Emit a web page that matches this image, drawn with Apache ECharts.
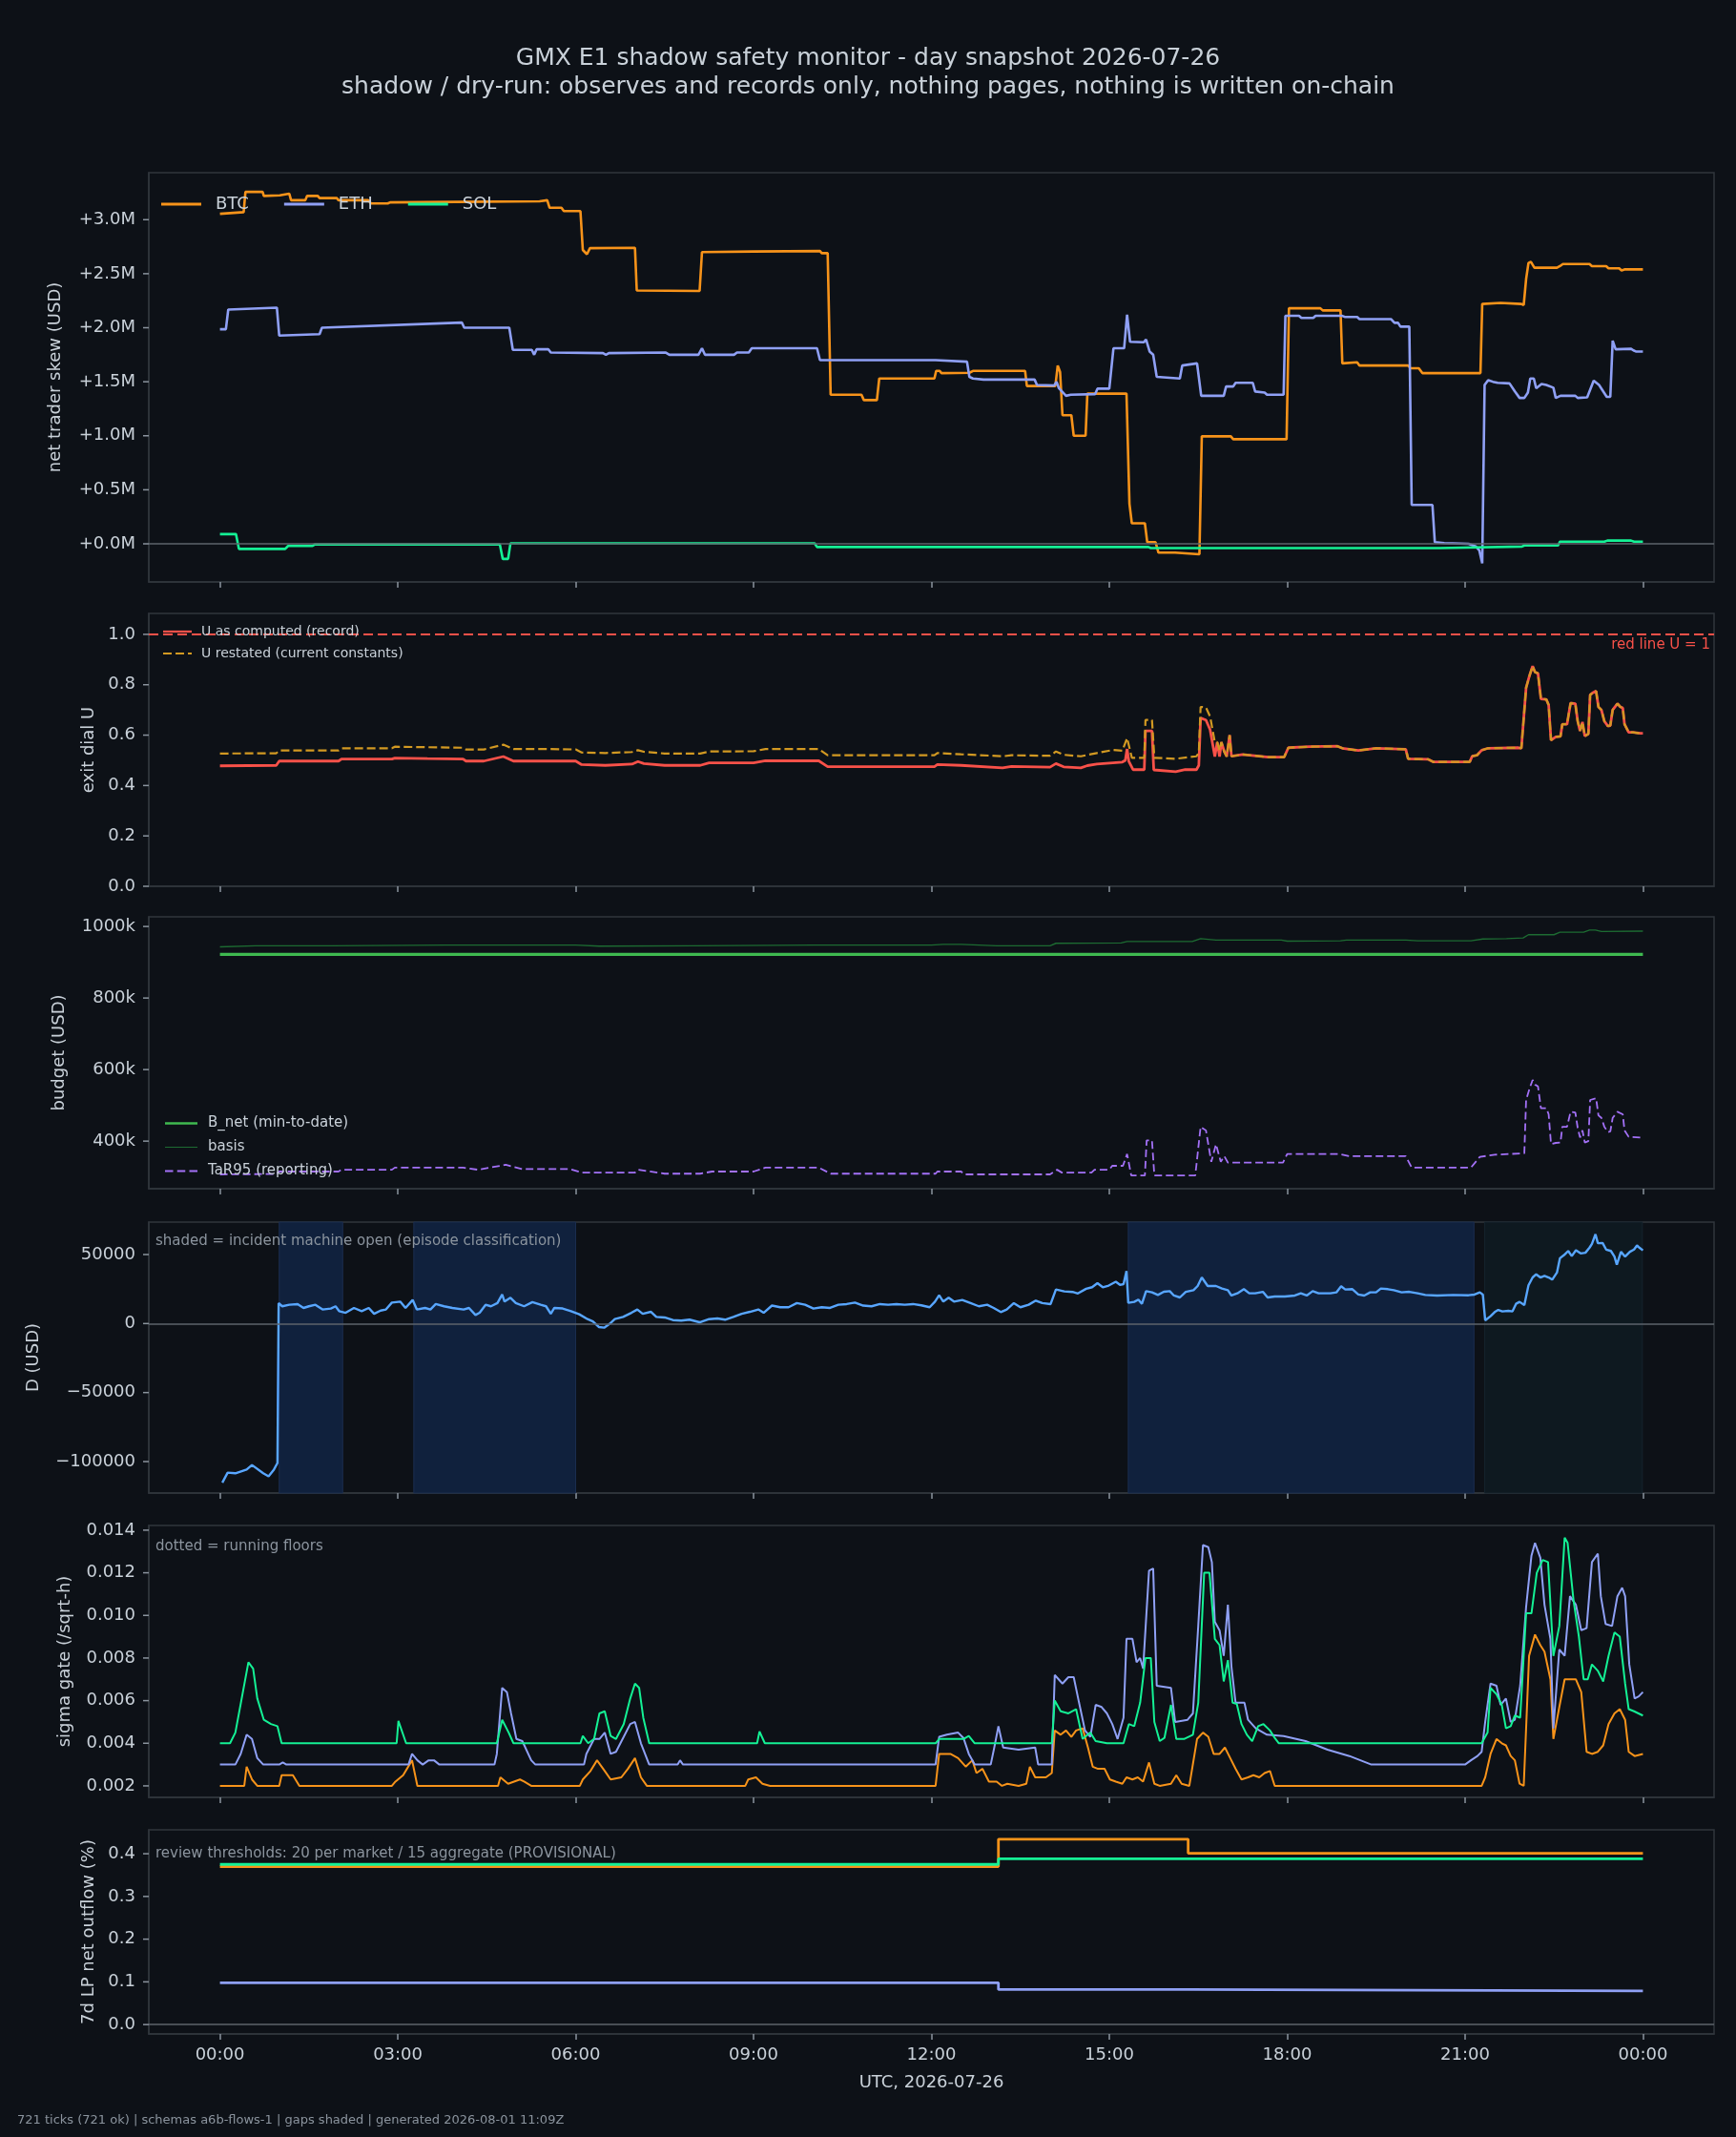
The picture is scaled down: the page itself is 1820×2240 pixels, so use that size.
<!DOCTYPE html>
<html>
<head>
<meta charset="utf-8">
<title>GMX E1 shadow safety monitor</title>
<script src="https://cdn.jsdelivr.net/npm/echarts@6/dist/echarts.min.js"></script>
<style>
  html, body { margin: 0; padding: 0; background: #0d1117; }
  #chart { width: 1820px; height: 2240px; }
</style>
</head>
<body>
<div id="chart"></div>
<script>
// x values are hours since 00:00 UTC, 2026-07-26

// net trader skew, USD millions
var btcSkewM = [[0,3.054],[0.4,3.07],[0.43,3.257],[0.72,3.257],[0.74,3.22],[1.01,3.225],[1.04,3.24],[1.17,3.24],[1.2,3.18],[1.44,3.18],[1.47,3.22],[1.65,3.22],[1.68,3.20],[1.97,3.20],[2.0,3.18],[2.5,3.18],[2.55,3.15],[2.83,3.15],[2.87,3.16],[4.0,3.165],[5.39,3.17],[5.42,3.18],[5.52,3.18],[5.56,3.11],[5.76,3.11],[5.8,3.08],[6.08,3.08],[6.12,2.72],[6.19,2.68],[6.24,2.736],[7.0,2.74],[7.03,2.345],[8.09,2.34],[8.13,2.70],[9.0,2.705],[10.12,2.71],[10.15,2.69],[10.25,2.69],[10.3,1.38],[10.82,1.38],[10.86,1.33],[11.08,1.33],[11.12,1.53],[12.05,1.53],[12.08,1.60],[12.14,1.60],[12.17,1.58],[12.64,1.583],[12.7,1.60],[13.58,1.60],[13.61,1.46],[14.09,1.46],[14.13,1.65],[14.17,1.59],[14.21,1.19],[14.36,1.19],[14.4,1.0],[14.6,1.0],[14.63,1.39],[15.29,1.39],[15.34,0.37],[15.38,0.19],[15.6,0.19],[15.64,0.015],[15.78,0.015],[15.83,-0.082],[16.11,-0.082],[16.14,-0.097],[16.52,-0.097],[16.56,0.995],[17.05,0.995],[17.09,0.968],[17.99,0.968],[18.03,2.18],[18.56,2.18],[18.6,2.16],[18.9,2.16],[18.93,1.67],[19.18,1.68],[19.22,1.65],[20.04,1.65],[20.08,1.625],[20.22,1.625],[20.28,1.58],[21.26,1.58],[21.29,2.22],[21.6,2.23],[21.95,2.22],[21.99,2.21],[22.03,2.45],[22.07,2.60],[22.11,2.61],[22.17,2.555],[22.55,2.555],[22.6,2.57],[22.65,2.59],[23.1,2.59],[23.14,2.57],[23.38,2.57],[23.42,2.55],[23.6,2.55],[23.64,2.53],[23.7,2.54],[24.0,2.54]];
var ethSkewM = [[0,1.986],[0.1,1.986],[0.14,2.168],[0.96,2.186],[1.0,1.927],[1.68,1.94],[1.72,2.0],[4.08,2.048],[4.12,2.0],[4.88,2.0],[4.94,1.795],[5.26,1.795],[5.3,1.75],[5.34,1.80],[5.54,1.80],[5.58,1.77],[6.46,1.765],[6.51,1.75],[6.56,1.765],[7.52,1.77],[7.58,1.75],[8.07,1.75],[8.13,1.81],[8.18,1.75],[8.67,1.75],[8.72,1.77],[8.92,1.77],[8.97,1.81],[10.07,1.81],[10.12,1.70],[12.07,1.70],[12.6,1.686],[12.64,1.545],[12.7,1.53],[12.88,1.52],[13.74,1.52],[13.78,1.47],[14.07,1.465],[14.11,1.50],[14.15,1.44],[14.27,1.37],[14.35,1.38],[14.76,1.385],[14.8,1.436],[15.0,1.436],[15.07,1.81],[15.25,1.81],[15.3,2.12],[15.35,1.87],[15.58,1.865],[15.62,1.89],[15.68,1.78],[15.74,1.75],[15.8,1.545],[16.19,1.53],[16.23,1.65],[16.48,1.67],[16.55,1.37],[16.93,1.37],[16.97,1.456],[17.09,1.456],[17.13,1.49],[17.42,1.49],[17.46,1.41],[17.62,1.40],[17.66,1.38],[17.94,1.38],[17.97,2.11],[18.2,2.11],[18.24,2.09],[18.44,2.09],[18.48,2.11],[18.93,2.11],[18.97,2.10],[19.18,2.10],[19.22,2.08],[19.75,2.08],[19.81,2.045],[19.87,2.045],[19.91,2.01],[20.06,2.01],[20.1,0.36],[20.45,0.36],[20.49,0.015],[20.65,0.007],[21.06,0.0],[21.18,-0.024],[21.24,-0.06],[21.29,-0.18],[21.33,1.47],[21.39,1.515],[21.47,1.50],[21.55,1.49],[21.75,1.485],[21.84,1.41],[21.92,1.35],[22.0,1.35],[22.06,1.40],[22.1,1.53],[22.16,1.53],[22.2,1.44],[22.29,1.48],[22.37,1.47],[22.49,1.445],[22.53,1.35],[22.61,1.37],[22.86,1.37],[22.9,1.35],[23.06,1.355],[23.17,1.51],[23.26,1.47],[23.39,1.36],[23.45,1.36],[23.49,1.88],[23.54,1.80],[23.8,1.805],[23.84,1.79],[23.88,1.78],[24.0,1.78]];
var solSkewM = [[0,0.09],[0.27,0.09],[0.32,-0.047],[1.1,-0.047],[1.15,-0.02],[1.56,-0.02],[1.6,-0.005],[4.72,-0.005],[4.77,-0.14],[4.86,-0.14],[4.9,0.005],[10.03,0.005],[10.07,-0.03],[15.66,-0.03],[15.7,-0.04],[20.57,-0.04],[20.6,-0.025],[21.96,-0.025],[22.0,-0.015],[22.57,-0.015],[22.6,0.02],[23.35,0.02],[23.4,0.03],[23.8,0.03],[23.85,0.02],[24.0,0.02]];

// exit dial U
var uComputed = [[0,0.478],[0.95,0.48],[1.0,0.497],[2.0,0.497],[2.05,0.505],[2.9,0.505],[2.95,0.509],[3.5,0.507],[4.1,0.505],[4.15,0.497],[4.45,0.497],[4.78,0.515],[4.95,0.497],[5.55,0.497],[6.0,0.497],[6.1,0.483],[6.5,0.48],[6.95,0.485],[7.05,0.495],[7.15,0.487],[7.5,0.48],[8.1,0.48],[8.25,0.49],[9.0,0.49],[9.2,0.498],[10.1,0.498],[10.25,0.475],[12.05,0.475],[12.1,0.483],[12.5,0.48],[13.2,0.47],[13.35,0.476],[14.0,0.473],[14.1,0.487],[14.23,0.474],[14.52,0.47],[14.63,0.479],[14.79,0.485],[15.06,0.49],[15.22,0.493],[15.27,0.5],[15.3,0.545],[15.33,0.496],[15.4,0.463],[15.59,0.463],[15.61,0.617],[15.72,0.617],[15.75,0.462],[16.12,0.455],[16.28,0.463],[16.47,0.463],[16.51,0.48],[16.54,0.668],[16.63,0.66],[16.7,0.622],[16.78,0.515],[16.82,0.572],[16.86,0.515],[16.89,0.572],[16.94,0.534],[16.98,0.515],[17.03,0.6],[17.06,0.516],[17.25,0.523],[17.68,0.513],[17.95,0.513],[18.02,0.55],[18.37,0.554],[18.85,0.556],[18.88,0.561],[18.93,0.548],[19.2,0.539],[19.5,0.548],[20.0,0.544],[20.04,0.506],[20.38,0.504],[20.46,0.494],[21.08,0.494],[21.12,0.516],[21.2,0.52],[21.28,0.54],[21.39,0.548],[21.9,0.55],[21.95,0.548],[22.03,0.788],[22.09,0.838],[22.14,0.874],[22.18,0.85],[22.23,0.845],[22.28,0.744],[22.37,0.742],[22.41,0.72],[22.45,0.58],[22.48,0.585],[22.53,0.593],[22.61,0.595],[22.64,0.643],[22.72,0.643],[22.74,0.637],[22.78,0.727],[22.86,0.725],[22.9,0.655],[22.94,0.617],[22.98,0.652],[23.02,0.596],[23.08,0.605],[23.11,0.76],[23.16,0.769],[23.21,0.775],[23.25,0.712],[23.3,0.7],[23.35,0.655],[23.41,0.636],[23.45,0.638],[23.49,0.7],[23.57,0.725],[23.62,0.712],[23.66,0.708],[23.69,0.643],[23.72,0.641],[23.76,0.611],[23.83,0.611],[23.96,0.607],[24.0,0.607]];
// restated sits above the record until ~17:00, after that the two lines coincide
var uRestatedEarly = [[0,0.527],[0.95,0.528],[1.0,0.539],[2.0,0.539],[2.05,0.548],[2.9,0.548],[2.95,0.554],[3.5,0.552],[4.1,0.55],[4.15,0.543],[4.45,0.543],[4.78,0.562],[4.95,0.545],[5.55,0.545],[6.0,0.543],[6.1,0.531],[6.5,0.529],[6.95,0.533],[7.05,0.54],[7.15,0.534],[7.5,0.527],[8.1,0.527],[8.25,0.535],[9.0,0.536],[9.2,0.545],[10.1,0.545],[10.25,0.52],[12.05,0.52],[12.1,0.529],[12.5,0.524],[13.2,0.516],[13.35,0.52],[14.0,0.518],[14.1,0.535],[14.23,0.522],[14.52,0.516],[14.79,0.529],[15.06,0.541],[15.22,0.538],[15.3,0.588],[15.38,0.51],[15.59,0.51],[15.61,0.66],[15.72,0.66],[15.76,0.51],[16.12,0.506],[16.47,0.516],[16.51,0.53],[16.54,0.712],[16.63,0.71],[16.7,0.674],[16.78,0.572],[16.82,0.572],[16.86,0.54],[16.89,0.572],[16.94,0.534],[16.98,0.515],[17.03,0.6]];
var uRestated = uRestatedEarly.concat(uComputed.filter(function (p) { return p[0] >= 17.06; }));
var redLineU = 1;

// budget, USD thousands
var bNetK = [[0,922],[24,922]];
var basisK = [[0,943],[0.6,946],[1.9,946],[3.8,948],[6.0,948],[6.4,945],[8,946],[10,948],[12,948],[12.2,950],[12.5,950],[13.1,946],[14.0,946],[14.1,953],[15.2,954],[15.3,958],[16.4,958],[16.54,966],[16.8,962],[17.9,962],[18,959],[18.9,960],[19.0,962],[20.0,962],[20.2,960],[21.1,960],[21.3,965],[21.7,966],[21.98,968],[22.07,977],[22.5,977],[22.6,984],[23.0,984],[23.1,990],[23.2,990],[23.3,986],[24,987]];
var tar95K = [[0,307],[0.95,308],[1.0,315],[2.0,315],[2.05,320],[2.9,320],[2.95,326],[4.1,326],[4.35,320],[4.82,334],[5.1,322],[5.9,322],[6.1,312],[7.0,312],[7.05,320],[7.5,309],[8.1,309],[8.3,315],[9.0,315],[9.2,326],[10.1,326],[10.3,309],[12.07,309],[12.1,315],[12.5,315],[12.55,307],[14.0,307],[14.12,320],[14.2,312],[14.7,312],[14.75,320],[15.0,320],[15.05,331],[15.23,331],[15.3,364],[15.37,304],[15.6,304],[15.63,402],[15.72,402],[15.76,304],[16.45,304],[16.54,440],[16.63,430],[16.72,342],[16.8,391],[16.88,342],[16.94,358],[17.0,340],[17.93,340],[18.0,364],[18.87,364],[18.9,368],[19.05,358],[20.0,358],[20.1,326],[21.1,326],[21.25,356],[21.5,362],[22.0,366],[22.03,515],[22.09,548],[22.14,571],[22.18,558],[22.23,553],[22.28,492],[22.37,492],[22.41,475],[22.45,392],[22.53,395],[22.61,396],[22.64,440],[22.72,440],[22.78,482],[22.86,480],[22.9,437],[22.94,410],[22.98,430],[23.02,396],[23.08,400],[23.11,515],[23.21,520],[23.25,472],[23.3,465],[23.35,440],[23.41,425],[23.45,427],[23.49,465],[23.57,482],[23.66,475],[23.69,430],[23.72,430],[23.76,412],[23.96,410],[24.0,410]];

// D, USD
var dUsd = [[0.04,-115300],[0.13,-108000],[0.26,-108500],[0.45,-105800],[0.54,-102500],[0.73,-108500],[0.82,-110700],[0.91,-105800],[0.97,-101000],[0.99,14800],[1.05,12500],[1.17,13600],[1.31,14100],[1.41,11300],[1.5,12500],[1.61,13600],[1.73,10200],[1.87,10900],[1.95,12500],[2.01,9000],[2.12,7800],[2.26,11300],[2.39,9000],[2.51,11300],[2.6,7100],[2.71,9400],[2.8,10200],[2.9,15200],[3.04,15900],[3.13,11300],[3.25,17100],[3.32,10200],[3.46,11300],[3.55,10200],[3.64,14100],[3.78,12500],[3.92,11300],[4.11,10200],[4.2,11300],[4.31,6200],[4.38,7800],[4.48,13600],[4.57,12500],[4.68,14800],[4.76,21000],[4.8,15900],[4.9,18700],[4.99,14800],[5.13,12500],[5.27,15500],[5.41,13600],[5.5,12500],[5.58,7100],[5.64,11300],[5.78,10900],[5.92,9000],[6.06,6700],[6.2,3200],[6.29,1600],[6.39,-2500],[6.48,-3000],[6.57,-300],[6.66,3200],[6.8,4800],[6.94,7800],[7.04,10200],[7.13,7100],[7.27,8500],[7.36,4800],[7.5,4400],[7.64,2500],[7.78,2100],[7.92,2800],[8.09,900],[8.25,3200],[8.39,3700],[8.52,2800],[8.66,4800],[8.8,7100],[8.94,8500],[9.08,10200],[9.17,7800],[9.31,13000],[9.45,11800],[9.59,11800],[9.73,14800],[9.87,13600],[10.01,10900],[10.15,11800],[10.29,11300],[10.43,13600],[10.57,14100],[10.71,15200],[10.85,13000],[10.99,12500],[11.13,14100],[11.27,13600],[11.41,14100],[11.55,13600],[11.69,14100],[11.83,13200],[11.97,11800],[12.06,15900],[12.13,20500],[12.2,15900],[12.29,18700],[12.38,15900],[12.52,17100],[12.66,14800],[12.8,12500],[12.94,13600],[13.05,11300],[13.17,8300],[13.27,10200],[13.39,14800],[13.5,11800],[13.64,13600],[13.76,16600],[13.87,14800],[14.01,14100],[14.1,24700],[14.24,23300],[14.38,22900],[14.47,21800],[14.61,25200],[14.71,26300],[14.8,29300],[14.89,26300],[14.99,27500],[15.11,30300],[15.18,28000],[15.24,28600],[15.29,38000],[15.32,15000],[15.42,15700],[15.49,17300],[15.55,14300],[15.62,23500],[15.72,22600],[15.82,20700],[15.92,23000],[16.02,23500],[16.09,20300],[16.19,18900],[16.29,23000],[16.42,24200],[16.49,27200],[16.56,33400],[16.66,27200],[16.8,27200],[16.9,25400],[17.0,24200],[17.06,20300],[17.16,21900],[17.27,24900],[17.36,21900],[17.46,21900],[17.59,23000],[17.67,18900],[17.79,19600],[17.96,19600],[18.13,20300],[18.23,21900],[18.33,20300],[18.43,23500],[18.53,21900],[18.73,21900],[18.83,22600],[18.91,27000],[18.98,24700],[19.1,24900],[19.2,21100],[19.3,20300],[19.4,22600],[19.5,22600],[19.58,25400],[19.7,24900],[19.8,24200],[19.93,22600],[20.06,23000],[20.2,21900],[20.33,20700],[20.53,20300],[20.8,20700],[21.06,20500],[21.16,21000],[21.25,22600],[21.3,21000],[21.34,2300],[21.43,5300],[21.5,8300],[21.56,9900],[21.63,8800],[21.73,9200],[21.8,8800],[21.86,14300],[21.92,15700],[22.0,13400],[22.07,27700],[22.14,33400],[22.2,35700],[22.27,33400],[22.34,34600],[22.41,33400],[22.47,31800],[22.55,36900],[22.6,47300],[22.67,49600],[22.74,52600],[22.8,48900],[22.87,53100],[22.95,50800],[23.03,51300],[23.1,55000],[23.14,57700],[23.2,64700],[23.24,58200],[23.32,58400],[23.38,53600],[23.46,52600],[23.52,48500],[23.56,42700],[23.63,52000],[23.7,48500],[23.78,52000],[23.85,53600],[23.9,56600],[23.94,55000],[24.0,53000]];
var incidentOpen = [[1.0,2.07],[3.27,6.0],[15.32,21.15]];
var dataGaps = [[21.33,23.99]];

// sigma gate, /sqrt-h
var sigmaBtc = [[0,0.002],[0.41,0.002],[0.45,0.0029],[0.54,0.0023],[0.63,0.002],[1.0,0.002],[1.04,0.0025],[1.23,0.0025],[1.34,0.002],[2.9,0.002],[2.96,0.0022],[3.09,0.0025],[3.24,0.0032],[3.33,0.002],[4.69,0.002],[4.73,0.0024],[4.86,0.0021],[5.06,0.0023],[5.13,0.0022],[5.25,0.002],[6.07,0.002],[6.12,0.0023],[6.25,0.0027],[6.36,0.0032],[6.49,0.0027],[6.59,0.0023],[6.77,0.0024],[6.88,0.0028],[7.0,0.0033],[7.1,0.0024],[7.2,0.002],[8.86,0.002],[8.91,0.0023],[9.04,0.0024],[9.15,0.0021],[9.28,0.002],[12.07,0.002],[12.13,0.0035],[12.32,0.0035],[12.45,0.0033],[12.58,0.0029],[12.69,0.0032],[12.76,0.0026],[12.86,0.0028],[12.97,0.0022],[13.1,0.0022],[13.19,0.002],[13.28,0.0021],[13.47,0.002],[13.6,0.0021],[13.66,0.0029],[13.75,0.0024],[13.93,0.0024],[14.03,0.0026],[14.08,0.0046],[14.18,0.0044],[14.27,0.0046],[14.36,0.0043],[14.44,0.0046],[14.55,0.0047],[14.64,0.0038],[14.72,0.0029],[14.81,0.0028],[14.92,0.0028],[15.01,0.0023],[15.11,0.0022],[15.22,0.0021],[15.29,0.0024],[15.39,0.0023],[15.48,0.0024],[15.57,0.0022],[15.67,0.0031],[15.76,0.0021],[15.85,0.002],[16.04,0.0021],[16.13,0.0025],[16.22,0.0021],[16.35,0.002],[16.48,0.0042],[16.58,0.0045],[16.67,0.0043],[16.76,0.0035],[16.86,0.0035],[16.95,0.0038],[17.04,0.0033],[17.13,0.0028],[17.23,0.0023],[17.34,0.0024],[17.43,0.0025],[17.53,0.0024],[17.62,0.0026],[17.71,0.0027],[17.79,0.002],[21.28,0.002],[21.34,0.0024],[21.43,0.0035],[21.53,0.0042],[21.62,0.004],[21.69,0.0039],[21.77,0.0034],[21.84,0.0032],[21.92,0.0021],[21.99,0.002],[22.03,0.0047],[22.08,0.0081],[22.18,0.0091],[22.27,0.0086],[22.34,0.0083],[22.44,0.007],[22.49,0.0042],[22.59,0.0057],[22.68,0.007],[22.87,0.007],[22.96,0.0064],[23.05,0.0036],[23.14,0.0035],[23.24,0.0036],[23.33,0.0039],[23.42,0.0049],[23.52,0.0054],[23.61,0.0056],[23.7,0.0051],[23.76,0.0036],[23.86,0.0034],[24.0,0.0035]];
var sigmaEth = [[0,0.003],[0.26,0.003],[0.35,0.0035],[0.45,0.0044],[0.54,0.0042],[0.63,0.0033],[0.73,0.003],[1.0,0.003],[1.06,0.0031],[1.12,0.003],[3.18,0.003],[3.24,0.0035],[3.33,0.0032],[3.42,0.003],[3.52,0.0032],[3.61,0.0032],[3.7,0.003],[4.63,0.003],[4.67,0.0035],[4.76,0.0066],[4.84,0.0064],[4.91,0.0054],[5.0,0.0042],[5.1,0.0041],[5.25,0.0032],[5.32,0.003],[6.14,0.003],[6.18,0.0035],[6.31,0.0042],[6.4,0.0042],[6.49,0.0045],[6.59,0.0035],[6.68,0.0036],[6.81,0.0043],[6.92,0.0049],[7.0,0.005],[7.1,0.004],[7.24,0.003],[7.72,0.003],[7.76,0.0032],[7.81,0.003],[12.07,0.003],[12.13,0.0043],[12.26,0.0044],[12.45,0.0045],[12.54,0.00425],[12.63,0.0035],[12.73,0.003],[13.0,0.003],[13.06,0.0038],[13.13,0.0048],[13.21,0.0038],[13.47,0.0037],[13.75,0.0038],[13.8,0.003],[14.03,0.003],[14.08,0.0072],[14.21,0.0068],[14.31,0.0071],[14.4,0.0071],[14.49,0.0059],[14.59,0.0046],[14.68,0.0043],[14.77,0.0058],[14.87,0.0057],[14.96,0.0054],[15.05,0.0049],[15.14,0.0042],[15.24,0.0052],[15.29,0.0089],[15.39,0.0089],[15.46,0.0078],[15.52,0.008],[15.57,0.0075],[15.67,0.0121],[15.74,0.0122],[15.8,0.0067],[16.04,0.0066],[16.11,0.005],[16.32,0.0051],[16.41,0.0054],[16.5,0.0095],[16.58,0.0133],[16.67,0.0132],[16.73,0.0125],[16.78,0.0097],[16.86,0.0093],[16.93,0.0081],[17.0,0.0105],[17.06,0.0076],[17.13,0.0059],[17.28,0.0059],[17.34,0.0051],[17.47,0.0047],[17.66,0.0044],[17.94,0.00434],[18.31,0.0041],[18.68,0.0037],[19.05,0.0034],[19.42,0.003],[21.0,0.003],[21.1,0.0032],[21.21,0.0034],[21.28,0.0036],[21.34,0.005],[21.43,0.0068],[21.53,0.0067],[21.6,0.0058],[21.69,0.0061],[21.77,0.005],[21.84,0.0051],[21.93,0.0067],[22.03,0.0104],[22.12,0.0128],[22.18,0.0134],[22.27,0.0127],[22.34,0.0105],[22.44,0.0089],[22.49,0.0047],[22.59,0.0084],[22.68,0.0081],[22.77,0.0109],[22.87,0.0105],[22.96,0.0093],[23.05,0.0094],[23.14,0.0125],[23.24,0.0129],[23.29,0.0109],[23.37,0.0096],[23.48,0.0095],[23.57,0.0109],[23.65,0.0113],[23.7,0.0109],[23.77,0.0077],[23.86,0.0061],[23.93,0.0062],[24.0,0.0064]];
var sigmaSol = [[0,0.004],[0.17,0.004],[0.26,0.0045],[0.35,0.00585],[0.48,0.0078],[0.56,0.0075],[0.63,0.0061],[0.74,0.0051],[0.86,0.0049],[0.97,0.0048],[1.04,0.004],[2.98,0.004],[3.01,0.00505],[3.14,0.004],[4.67,0.004],[4.76,0.0051],[4.87,0.0045],[4.95,0.004],[6.08,0.004],[6.12,0.00434],[6.21,0.004],[6.31,0.0042],[6.4,0.0054],[6.49,0.0055],[6.59,0.00434],[6.68,0.0042],[6.81,0.0049],[6.92,0.0061],[7.0,0.0068],[7.07,0.0066],[7.14,0.0052],[7.24,0.004],[9.06,0.004],[9.1,0.00455],[9.19,0.004],[12.07,0.004],[12.13,0.0042],[12.54,0.0042],[12.63,0.00434],[12.73,0.004],[14.03,0.004],[14.08,0.006],[14.18,0.0055],[14.31,0.0054],[14.44,0.0056],[14.55,0.0042],[14.68,0.0045],[14.77,0.0041],[14.96,0.004],[15.24,0.004],[15.33,0.0049],[15.42,0.0048],[15.52,0.0059],[15.61,0.008],[15.7,0.008],[15.76,0.005],[15.85,0.0041],[15.93,0.00425],[16.04,0.0058],[16.13,0.0042],[16.26,0.0042],[16.41,0.0044],[16.5,0.0059],[16.6,0.012],[16.69,0.012],[16.78,0.0089],[16.86,0.0086],[16.93,0.0069],[17.0,0.0079],[17.08,0.0059],[17.15,0.00585],[17.23,0.0049],[17.32,0.0044],[17.41,0.0041],[17.51,0.0048],[17.6,0.0049],[17.71,0.0046],[17.79,0.00425],[17.86,0.004],[21.28,0.004],[21.38,0.0045],[21.43,0.0066],[21.53,0.0063],[21.62,0.0058],[21.69,0.0047],[21.77,0.0048],[21.84,0.0053],[21.93,0.0052],[22.03,0.0101],[22.12,0.0101],[22.21,0.012],[22.31,0.0126],[22.4,0.0125],[22.49,0.0081],[22.59,0.0095],[22.68,0.01365],[22.73,0.0134],[22.83,0.0107],[22.92,0.009],[23.0,0.007],[23.07,0.007],[23.14,0.0077],[23.24,0.0074],[23.33,0.0069],[23.42,0.0081],[23.52,0.0092],[23.61,0.009],[23.7,0.0068],[23.76,0.0056],[23.85,0.0055],[24.0,0.0053]];
var sigmaFloors = { btc: 0.002, eth: 0.003, sol: 0.004 };

// 7d LP net outflow, % (value holds until the next point)
var lpBtc = [[0,0.370],[13.13,0.434],[16.33,0.401],[24,0.401]];
var lpEth = [[0,0.098],[13.13,0.082],[16.33,0.079],[24,0.079]];
var lpSol = [[0,0.375],[13.13,0.388],[24,0.388]];

// tick labels
var hourTicks = [0, 3, 6, 9, 12, 15, 18, 21, 24];
var skewTicks = [0, 0.5, 1, 1.5, 2, 2.5, 3];
var uTicks = [0, 0.2, 0.4, 0.6, 0.8, 1.0];
var budgetTicks = [400, 600, 800, 1000];
var dTicks = [-100000, -50000, 0, 50000];
var sigmaTicks = [0.002, 0.004, 0.006, 0.008, 0.010, 0.012, 0.014];
var lpTicks = [0, 0.1, 0.2, 0.3, 0.4];

// x is drawn on a plain value axis in epoch milliseconds
var DAY0 = Date.UTC(2026, 6, 26);
var X_MIN = -1.2, X_MAX = 25.2;  // hours, matplotlib-style 5% margins
function ts(h) { return DAY0 + h * 3600000; }
function timed(rows) { return rows.map(function (p) { return [ts(p[0]), p[1]]; }); }

// ---- style ----
var FONT = '"DejaVu Sans", Verdana, sans-serif';
var TXT = '#c9d1d9';
var MUTED = '#8b949e';
var SPINE = '#30363d';
var C_BTC = '#f7931a', C_ETH = '#8fa0f5', C_SOL = '#14f195';
var ZERO = '#5c636b';

// legend glyphs: plain bar for solid lines, bars for dashed ones
var ICON_SOLID = 'path://M0,0H40V3H0Z';
var ICON_THIN = 'path://M0,0H40V1.4H0Z';
var ICON_DASH = 'path://M0,0H9V2.2H0Z M13,0H22V2.2H13Z M26,0H30V2.2H26Z';
var ICON_DASH2 = 'path://M0,0H8V1.9H0Z M12,0H20V1.9H12Z M24,0H32V1.9H24Z';

var gridTops = [181, 643, 961, 1281, 1599, 1918];
var gridHeights = [429, 286, 285, 284, 285, 214];

var chart = echarts.init(document.getElementById('chart'), null, { renderer: 'canvas' });

function hhmm(v) {
    var h = new Date(v).getUTCHours();
    return (h < 10 ? '0' : '') + h + ':00';
}
function minus(v) {
    return v < 0 ? '\u2212' + Math.abs(v) : String(v);
}

var grids = gridTops.map(function (t, i) {
    return {
        left: 156, right: 23, top: t, height: gridHeights[i],
        show: true, borderColor: SPINE, borderWidth: 1.5,
        backgroundColor: 'transparent', containLabel: false
    };
});

var tickTimes = hourTicks.map(ts);
var xAxes = gridTops.map(function (t, i) {
    return {
        type: 'value', gridIndex: i, min: ts(X_MIN), max: ts(X_MAX), position: 'bottom', scale: true,
        axisLine: { show: true, onZero: false, lineStyle: { color: SPINE, width: 1.5 } }, splitLine: { show: false },
        axisTick: { show: true, customValues: tickTimes, length: 6, lineStyle: { color: MUTED, width: 1.5 } },
        axisLabel: { show: i === 5, customValues: tickTimes, formatter: hhmm, color: TXT, fontSize: 18, fontFamily: FONT, margin: 13 },
        name: i === 5 ? 'UTC, 2026-07-26' : '',
        nameLocation: 'middle', nameGap: 42,
        nameTextStyle: { color: TXT, fontSize: 18, fontFamily: FONT }
    };
});

function yAxis(i, name, gap, min, max, ticks, fmt) {
    return {
        type: 'value', gridIndex: i, min: min, max: max, position: 'left',
        name: name, nameLocation: 'middle', nameRotate: 90, nameGap: gap,
        nameTextStyle: { color: TXT, fontSize: 18, fontFamily: FONT },
        axisLine: { show: true, onZero: false, lineStyle: { color: SPINE, width: 1.5 } }, splitLine: { show: false },
        axisTick: { show: false },
        axisLabel: { customValues: ticks, formatter: fmt, color: TXT, fontSize: 18, fontFamily: FONT, margin: 14 }
    };
}

var yAxes = [
    yAxis(0, 'net trader skew (USD)', 89, -0.353, 3.435, skewTicks, function (v) { return '+' + v.toFixed(1) + 'M'; }),
    yAxis(1, 'exit dial U', 54, 0, 1.083, uTicks, function (v) { return v.toFixed(1); }),
    yAxis(2, 'budget (USD)', 85, 267, 1027, budgetTicks, function (v) { return v + 'k'; }),
    yAxis(3, 'D (USD)', 112, -122800, 73500, dTicks, minus),
    yAxis(4, 'sigma gate (/sqrt-h)', 79, 0.00146, 0.01422, sigmaTicks, function (v) { return v.toFixed(3); }),
    yAxis(5, '7d LP net outflow (%)', 53, -0.022, 0.456, lpTicks, function (v) { return v.toFixed(1); })
];

function line(name, gi, data, color, width, type, extra) {
    var s = {
        name: name, type: 'line', xAxisIndex: gi, yAxisIndex: gi,
        data: timed(data), symbol: 'none', showSymbol: false, clip: true,
        lineStyle: { color: color, width: width, type: type || 'solid' },
        itemStyle: { color: color },
        emphasis: { disabled: true }, animation: false
    };
    for (var k in extra) s[k] = extra[k];
    return s;
}
function hline(value, color, width, type, label) {
    return {
        silent: true, symbol: ['none', 'none'], animation: false,
        lineStyle: { color: color, width: width, type: type },
        label: label || { show: false },
        emphasis: { disabled: true },
        data: [{ yAxis: value }]
    };
}
// outward y tick marks on the left spine, placed through the axis scale
function yTicks(gi, ticks) {
    return {
        type: 'custom', xAxisIndex: gi, yAxisIndex: gi, silent: true, clip: false, animation: false,
        data: ticks.map(function (v) { return [ts(X_MIN), v]; }),
        encode: { x: 0, y: 1 },
        renderItem: function (params, api) {
            var p = api.coord([api.value(0), api.value(1)]);
            return { type: 'line', shape: { x1: p[0] - 6, y1: p[1], x2: p[0], y2: p[1] },
                     style: { stroke: MUTED, lineWidth: 1.5 } };
        }
    };
}

var areas = incidentOpen.map(function (r) {
    return [{ xAxis: ts(r[0]), itemStyle: { color: '#10213d', borderColor: '#1b2e50', borderWidth: 1 } }, { xAxis: ts(r[1]) }];
}).concat(dataGaps.map(function (r) {
    return [{ xAxis: ts(r[0]), itemStyle: { color: '#0e1920', borderColor: '#16242e', borderWidth: 1 } }, { xAxis: ts(r[1]) }];
}));

var series = [
    line('BTC', 0, btcSkewM, C_BTC, 2.6, 'solid', { markLine: hline(0, ZERO, 1.5, 'solid') }),
    line('ETH', 0, ethSkewM, C_ETH, 2.6),
    line('SOL', 0, solSkewM, C_SOL, 2.6),

    line('U as computed (record)', 1, uComputed, '#f85149', 2.8, 'solid', {
        markLine: hline(redLineU, '#f85149', 1.8, [10, 5], {
            show: true, position: 'insideEndBottom', formatter: 'red line U = 1',
            color: '#f85149', fontSize: 15, fontFamily: FONT, distance: [4, 4]
        })
    }),
    line('U restated (current constants)', 1, uRestated, '#d29922', 2.2, [9, 4]),

    line('B_net (min-to-date)', 2, bNetK, '#3fb950', 3.4),
    line('basis', 2, basisK, '#1d6b32', 1.4),
    line('TaR95 (reporting)', 2, tar95K, '#a371f7', 1.8, [8, 4]),

    line('D', 3, dUsd, '#58a6ff', 2.4, 'solid', {
        markArea: { silent: true, animation: false, data: areas },
        markLine: hline(0, ZERO, 1.5, 'solid')
    }),

    line('BTC sigma', 4, sigmaBtc, C_BTC, 2, 'solid', { markLine: hline(sigmaFloors.btc, C_BTC, 1.1, [1.5, 2.5]) }),
    line('ETH sigma', 4, sigmaEth, C_ETH, 2, 'solid', { markLine: hline(sigmaFloors.eth, C_ETH, 1.1, [1.5, 2.5]) }),
    line('SOL sigma', 4, sigmaSol, C_SOL, 2, 'solid', { markLine: hline(sigmaFloors.sol, C_SOL, 1.1, [1.5, 2.5]) }),

    line('BTC LP', 5, lpBtc, C_BTC, 2.8, 'solid', { step: 'end', markLine: hline(0, ZERO, 1.5, 'solid') }),
    line('ETH LP', 5, lpEth, C_ETH, 2.8, 'solid', { step: 'end' }),
    line('SOL LP', 5, lpSol, C_SOL, 2.8, 'solid', { step: 'end' }),

    yTicks(0, skewTicks), yTicks(1, uTicks), yTicks(2, budgetTicks),
    yTicks(3, dTicks), yTicks(4, sigmaTicks), yTicks(5, lpTicks)
];

var legends = [
    { data: [{ name: 'BTC', icon: ICON_SOLID }, { name: 'ETH', icon: ICON_SOLID }, { name: 'SOL', icon: ICON_SOLID }],
      left: 164, top: 200, orient: 'horizontal', itemWidth: 42, itemHeight: 14, itemGap: 37,
      textStyle: { color: TXT, fontSize: 18, fontFamily: FONT, padding: [0, 0, 0, 10] } },
    { data: [{ name: 'U as computed (record)', icon: ICON_SOLID }, { name: 'U restated (current constants)', icon: ICON_DASH }],
      left: 166, top: 650, orient: 'vertical', itemWidth: 30, itemHeight: 12, itemGap: 9,
      textStyle: { color: TXT, fontSize: 14, fontFamily: FONT, padding: [0, 0, 0, 5] } },
    { data: [{ name: 'B_net (min-to-date)', icon: ICON_SOLID }, { name: 'basis', icon: ICON_THIN }, { name: 'TaR95 (reporting)', icon: ICON_DASH2 }],
      left: 168, top: 1165, orient: 'vertical', itemWidth: 34, itemHeight: 12, itemGap: 10,
      textStyle: { color: TXT, fontSize: 15, fontFamily: FONT, padding: [0, 0, 0, 6] } }
].map(function (l) { l.selectedMode = false; l.z = 20; return l; });

function note(text, x, y, size, color) {
    return { type: 'text', left: x, top: y, silent: true, z: 100,
             style: { text: text, fill: color, font: size + 'px ' + FONT } };
}

chart.setOption({
    backgroundColor: '#0d1117',
    animation: false,
    title: [
        { text: 'GMX E1 shadow safety monitor - day snapshot 2026-07-26', left: 'center', top: 44,
          textStyle: { color: TXT, fontSize: 25, fontWeight: 'normal', fontFamily: FONT } },
        { text: 'shadow / dry-run: observes and records only, nothing pages, nothing is written on-chain', left: 'center', top: 74,
          textStyle: { color: TXT, fontSize: 25, fontWeight: 'normal', fontFamily: FONT } }
    ],
    legend: legends,
    grid: grids,
    xAxis: xAxes,
    yAxis: yAxes,
    series: series,
    graphic: [
        note('shaded = incident machine open (episode classification)', 163, 1294, 15, MUTED),
        note('dotted = running floors', 163, 1614, 15, MUTED),
        note('review thresholds: 20 per market / 15 aggregate (PROVISIONAL)', 163, 1936, 15, MUTED),
        note('721 ticks (721 ok) | schemas a6b-flows-1 | gaps shaded | generated 2026-08-01 11:09Z', 18, 2216, 13, MUTED)
    ]
});
</script>
</body>
</html>
